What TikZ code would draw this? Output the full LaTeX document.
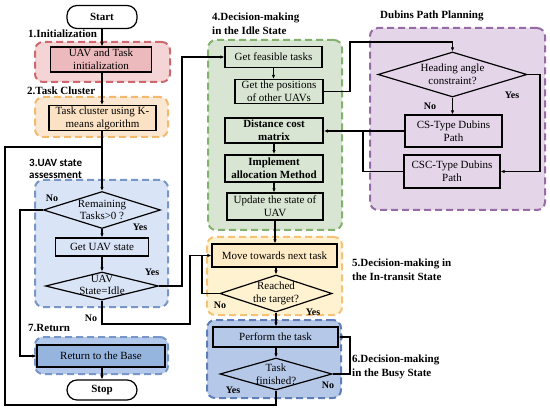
\documentclass[tikz,border=0pt]{standalone}
\usepackage{fontspec}
\setmainfont{Liberation Serif}
\newfontfamily\calibfont{Carlito}
\newfontfamily\timesfont{Liberation Serif}
\usetikzlibrary{shapes.geometric,arrows.meta}
\definecolor{pinkB}{RGB}{205,105,110}
\definecolor{pinkF}{RGB}{244,212,212}
\definecolor{pinkBox}{RGB}{236,186,188}
\definecolor{oraB}{RGB}{243,185,110}
\definecolor{oraF}{RGB}{252,232,210}
\definecolor{oraBox}{RGB}{251,226,196}
\definecolor{bluB}{RGB}{120,150,200}
\definecolor{bluF}{RGB}{218,228,247}
\definecolor{retF}{RGB}{178,201,235}
\definecolor{retBox}{RGB}{150,181,222}
\definecolor{grnB}{RGB}{130,178,110}
\definecolor{grnF}{RGB}{217,229,211}
\definecolor{purB}{RGB}{150,108,165}
\definecolor{purF}{RGB}{229,213,233}
\definecolor{yelB}{RGB}{245,195,120}
\definecolor{yelF}{RGB}{255,242,208}
\definecolor{yelBox}{RGB}{255,236,198}
\definecolor{busB}{RGB}{95,125,185}
\definecolor{busF}{RGB}{182,200,232}
\begin{document}
\begin{tikzpicture}[x=1pt,y=-1pt,
  font=\timesfont\fontsize{11}{12.8}\selectfont,
  box/.style={draw, line width=1.2pt, align=center, inner sep=1pt},
  boldbox/.style={box, line width=1.9pt, font=\timesfont\fontsize{11}{12.8}\selectfont\bfseries},
  dia/.style={draw, diamond, line width=1.2pt, inner sep=0pt},
  dtxt/.style={align=center, inner sep=0pt},
  term/.style={draw, line width=1.2pt, fill=white, rounded corners=10pt, minimum width=70, font=\timesfont\fontsize{11}{12.8}\selectfont\bfseries},
  grp/.style={draw, dash pattern=on 7pt off 4pt, line width=2pt, rounded corners=8pt},
  lab/.style={anchor=west, align=left, font=\timesfont\fontsize{11}{14}\selectfont\bfseries, inner sep=0pt},
  yn/.style={font=\timesfont\fontsize{10}{11}\selectfont\bfseries, inner sep=0pt},
  arr/.style={-{Latex[length=4pt,width=3.5pt]}, line width=1.2pt},
  ln/.style={line width=1.2pt}
]
\useasboundingbox (0,0) rectangle (550,412);

% groups
\node[grp, draw=pinkB, fill=pinkF, minimum width=135, minimum height=40] (g1) at (102.5,62) {};
\node[grp, draw=oraB, fill=oraF, minimum width=133, minimum height=40] (g2) at (101.5,117) {};
\node[grp, draw=bluB, fill=bluF, minimum width=133, minimum height=127] (g3) at (101.5,243.5) {};
\node[grp, draw=bluB, fill=retF, minimum width=133, minimum height=37] (g7) at (101.5,355.5) {};
\node[grp, draw=grnB, fill=grnF, minimum width=134, minimum height=190] (g4) at (275,135) {};
\node[grp, draw=yelB, fill=yelF, minimum width=135, minimum height=78] (g5) at (274.5,276) {};
\node[grp, draw=busB, fill=busF, minimum width=134, minimum height=78] (g6) at (274,359) {};
\node[grp, draw=purB, fill=purF, minimum width=175, minimum height=182] (gD) at (457.5,119) {};

% labels
\node[lab] (l1) at (28,34) {1.Initialization};
\node[lab] (l2) at (27,91) {2.Task Cluster};
\node[lab, font=\calibfont\fontsize{11}{12.5}\selectfont\bfseries] (l3) at (29,169) {3.UAV state\\assessment};
\node[lab] (l7) at (28,328) {7.Return};
\node[lab] (l4) at (212,24) {4.Decision-making\\in the Idle State};
\node[lab] (lD) at (380,16) {Dubins Path Planning};
\node[lab] (l5) at (352,269.5) {5.Decision-making in\\the In-transit State};
\node[lab] (l6) at (352,367) {6.Decision-making\\in the Busy State};

% column 1
\node[term, minimum height=23] (start) at (102,17) {Start};
\node[box, fill=pinkBox, minimum width=101, minimum height=25] (init) at (101,59.5) {UAV and Task\\initialization};
\node[box, fill=oraBox, minimum width=107, minimum height=22] (clus) at (102.5,118) {Task cluster using K-\\means algorithm};
\node[dia, fill=bluF, minimum width=117, minimum height=37] (d1) at (102,210) {};
\node[dtxt] (d1t) at (d1) {Remaining\\Tasks>0 ?};
\node[box, fill=bluF, minimum width=93, minimum height=18] (gst) at (102,247) {Get UAV state};
\node[dia, fill=bluF, minimum width=113, minimum height=28] (d2) at (102,286) {};
\node[dtxt] (d2t) at (102,285) {UAV\\State=Idle};
\node[box, fill=retBox, minimum width=128, minimum height=22] (ret) at (101,356) {Return to the Base};
\node[term, minimum height=20] (stop) at (102,390) {Stop};

\node[yn] (n1) at (52,198) {No};
\node[yn] (y1) at (140,227) {Yes};
\node[yn] (y2) at (152,272) {Yes};
\node[yn] (n2) at (91,318) {No};

% column 2
\node[box, fill=grnF, minimum width=97, minimum height=21] (feas) at (273.5,57) {Get feasible tasks};
\node[box, fill=grnF, minimum width=88, minimum height=24] (pos) at (279,91.5) {Get the positions\\of other UAVs};
\node[boldbox, fill=grnF, minimum width=98, minimum height=25] (dist) at (274,130.5) {Distance cost\\matrix};
\node[boldbox, fill=grnF, minimum width=98, minimum height=27] (impl) at (274,168.5) {Implement\\allocation Method};
\node[box, fill=grnF, minimum width=96, minimum height=27] (upd) at (275,206.5) {Update the state of\\UAV};
\node[box, fill=yelBox, minimum width=125, minimum height=23] (move) at (274.5,255.5) {Move towards next task};
\node[dia, fill=yelF, minimum width=112, minimum height=37] (reach) at (276,293.5) {};
\node[dtxt] (reacht) at (reach) {Reached\\the target?};
\node[box, fill=busF, minimum width=125, minimum height=20] (perf) at (275.5,337) {Perform the task};
\node[dia, fill=busF, minimum width=112, minimum height=32] (fin) at (276,374) {};
\node[dtxt] (fint) at (fin) {Task\\finished?};

\node[yn] (n3) at (220,305) {No};
\node[yn] (y3) at (313,312) {Yes};
\node[yn] (y4) at (233,390) {Yes};
\node[yn] (n4) at (328,385) {No};

% Dubins
\node[dia, fill=purF, minimum width=149, minimum height=45] (head) at (452.5,74.5) {};
\node[dtxt] (headt) at (head) {Heading angle\\constraint?};
\node[box, fill=purF, minimum width=97, minimum height=32] (cs) at (453.5,131) {CS-Type Dubins\\Path};
\node[box, fill=purF, minimum width=96, minimum height=33] (csc) at (452,171.5) {CSC-Type Dubins\\Path};
\node[yn] (n5) at (430,106) {No};
\node[yn] (y5) at (512,95) {Yes};

\coordinate (jtop) at (102,147);

% connectors column 1
\draw[arr] (start.south) -- (start.south |- init.north);
\draw[arr] (init.south -| start.south) -- (start.south |- clus.north);
\draw[arr] (clus.south -| start.south) -- (d1.north);
\draw[arr] (d1.south) -- (gst.north);
\draw[arr] (gst.south) -- (d2.north);
\draw[arr] (d1.west) -- (20,210) -- (20,356) -- (ret.west);
\draw[arr] (ret.south -| stop.north) -- (stop.north);
\draw[arr] (d2.east) -- (182,286) -- (182,57) -- (feas.west);
\draw[arr] (d2.south) -- (102,324) -- (190,324) -- (190,255.5) -- (move.west);
\draw[ln] (fin.south) -- (276,405) -- (5,405) -- (5,147) -- (jtop);

% connectors column 2
\draw[arr] (feas.south) -- (feas.south |- pos.north);
\draw[arr] (dist.south) -- (impl.north);
\draw[arr] (impl.south) -- (impl.south |- upd.north);
\draw[arr] (upd.south) -- (upd.south |- move.north);
\draw[arr] (move.south -| reach.north) -- (reach.north);
\draw[ln] (reach.west) -- (202,293.5) -- (202,255.5);
\draw[arr] (reach.south) -- (reach.south |- perf.north);
\draw[arr] (perf.south -| fin.north) -- (fin.north);
\draw[arr] (fin.east) -- (350,374) -- (350,337) -- (perf.east);

% Dubins connectors
\draw[arr] (pos.east) -- (350,91.5) -- (350,42) -- (452.5,42) -- (head.north);
\draw[arr] (head.south) -- (head.south |- cs.north);
\draw[arr] (head.east) -- (540,74.5) -- (540,171.5) -- (csc.east);
\draw[arr] (cs.west) -- (cs.west -| dist.east);
\draw[ln] (csc.west) -- (363,171.5) -- (363,131);
\end{tikzpicture}
\end{document}
